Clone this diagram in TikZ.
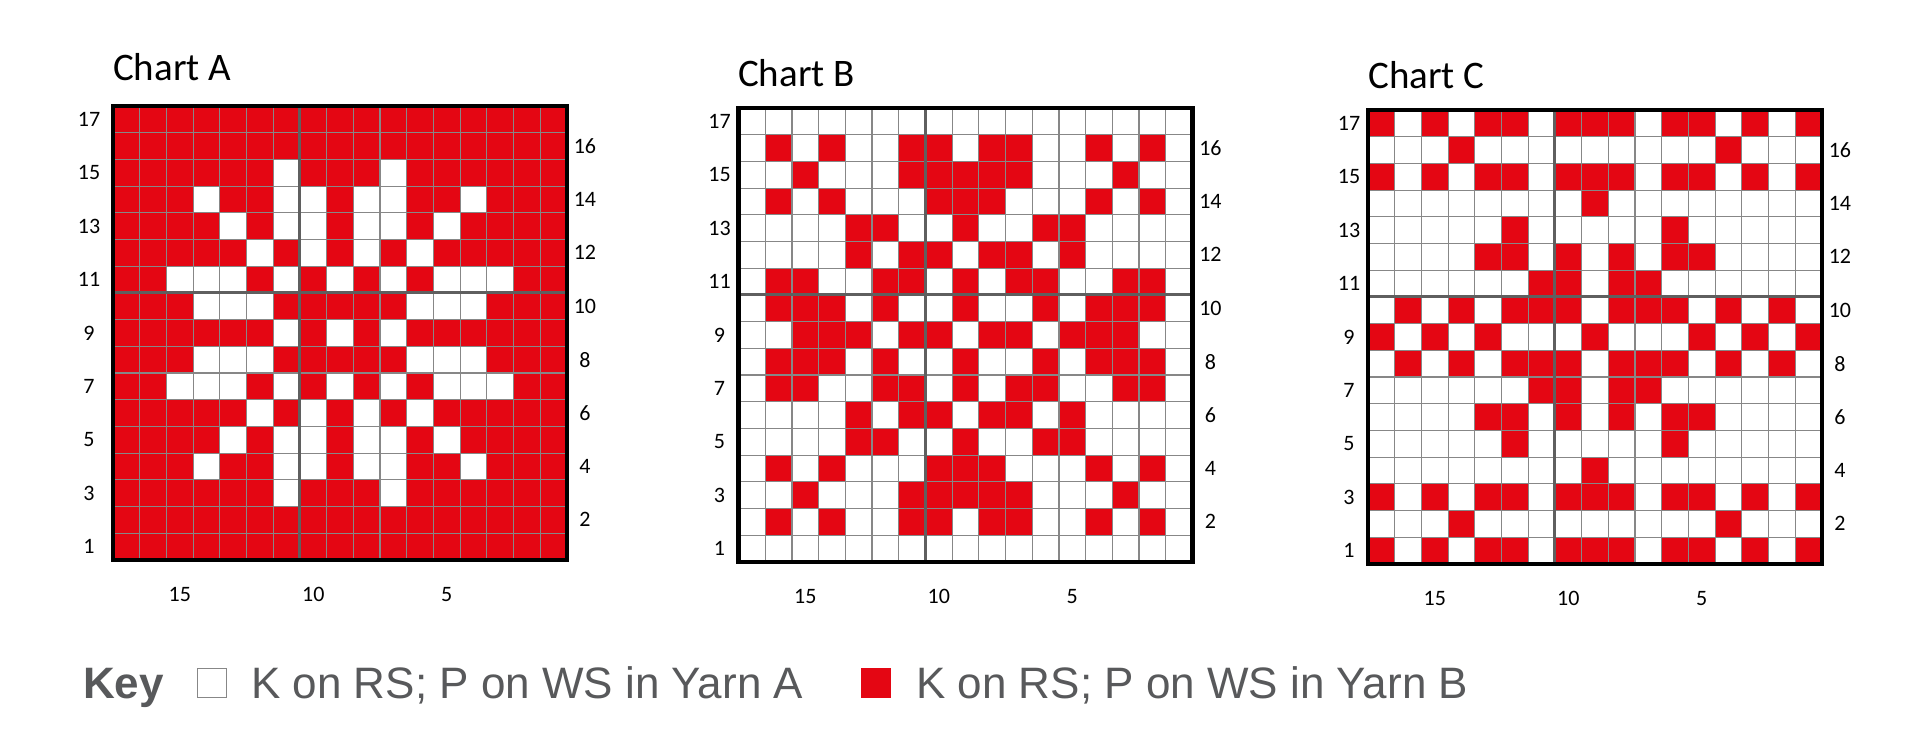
\documentclass[tikz,border=0pt]{standalone}
\usepackage{fontspec}
\setmainfont{Liberation Sans}
\newfontfamily\chartfont{Carlito}
\definecolor{knitred}{RGB}{228,6,19}
\definecolor{gridgray}{RGB}{135,135,135}
\definecolor{midgray}{RGB}{95,95,95}
\definecolor{keygray}{RGB}{88,89,91}
\def\cs{26.7}
\newcommand{\knitchart}[7]{%
\begin{scope}[shift={(#2,#3)}]
 \fill[#4] (0,0) rectangle (17*\cs,17*\cs);
 \foreach \r/\cols in {#6}{\foreach \c in \cols {\fill[#5] ({(\c-1)*\cs},{(17-\r)*\cs}) rectangle ++(\cs,\cs);}}
 \foreach \i in {1,...,16}{\draw[gridline] (\i*\cs,0) -- (\i*\cs,17*\cs); \draw[gridline] (0,\i*\cs) -- (17*\cs,\i*\cs);}
 \draw[midline] (7*\cs,0) -- (7*\cs,17*\cs);
 \draw[midline] (0,7*\cs) -- (17*\cs,7*\cs);
 \draw[chartborder] (0,0) rectangle (17*\cs,17*\cs);
 \foreach \r in {1,3,...,17}{\node[rowlab] (#1-l\r) at (#7,{(17.5-\r)*\cs}) {\r};}
 \foreach \r in {2,4,...,16}{\node[rowlab] (#1-r\r) at ({17*\cs+18},{(17.5-\r)*\cs}) {\r};}
 \foreach \s in {15,10,5}{\node[rowlab] (#1-b\s) at ({(17.5-\s)*\cs},{17*\cs+35}) {\s};}
\end{scope}}
\begin{document}
\begin{tikzpicture}[x=1pt,y=-1pt,
  gridline/.style={draw=gridgray,line width=1.2pt},
  midline/.style={draw=midgray,line width=3pt},
  chartborder/.style={draw=black,line width=4.5pt},
  rowlab/.style={inner sep=0pt,font=\chartfont\fontsize{22}{26}\selectfont,text=black},
  charttitle/.style={inner sep=0pt,anchor=base west,font=\chartfont\fontsize{39}{44}\selectfont,text=black},
  keytext/.style={inner sep=0pt,anchor=base west,font=\fontsize{44}{50}\selectfont,text=keygray},
  keybold/.style={inner sep=0pt,anchor=base west,font=\bfseries\fontsize{44}{50}\selectfont,text=keygray},
  keybox/.style={minimum size=29pt,inner sep=0pt,line width=1.5pt}]
\useasboundingbox (0,0) rectangle (1920,737);
\fill[white] (0,0) rectangle (1920,737);

\node[charttitle] (titleA) at (113,80) {Chart A};
\node[charttitle] (titleB) at (738,86) {Chart B};
\node[charttitle] (titleC) at (1368,88) {Chart C};

\knitchart{A}{113}{106}{knitred}{white}{15/{7,11},14/{4,7,8,10,11,14},13/{5,7,8,10,11,13},12/{6,8,10,12},11/{3,4,5,7,9,11,13,14,15},10/{4,5,6,12,13,14},9/{7,9,11},8/{4,5,6,12,13,14},7/{3,4,5,7,9,11,13,14,15},6/{6,8,10,12},5/{5,7,8,10,11,13},4/{4,7,8,10,11,14},3/{7,11}}{-24}

\knitchart{B}{738.5}{108}{white}{knitred}{16/{2,4,7,8,10,11,14,16},15/{3,7,8,9,10,11,15},14/{2,4,8,9,10,14,16},13/{5,6,9,12,13},12/{5,7,8,10,11,13},11/{2,3,6,7,9,11,12,15,16},10/{2,3,4,6,9,12,14,15,16},9/{3,4,5,7,8,10,11,13,14,15},8/{2,3,4,6,9,12,14,15,16},7/{2,3,6,7,9,11,12,15,16},6/{5,7,8,10,11,13},5/{5,6,9,12,13},4/{2,4,8,9,10,14,16},3/{3,7,8,9,10,11,15},2/{2,4,7,8,10,11,14,16}}{-19}

\knitchart{C}{1368}{110}{white}{knitred}{17/{1,3,5,6,8,9,10,12,13,15,17},16/{4,14},15/{1,3,5,6,8,9,10,12,13,15,17},14/{9},13/{6,12},12/{5,6,8,10,12,13},11/{7,8,10,11},10/{2,4,6,7,8,10,11,12,14,16},9/{1,3,5,9,13,15,17},8/{2,4,6,7,8,10,11,12,14,16},7/{7,8,10,11},6/{5,6,8,10,12,13},5/{6,12},4/{9},3/{1,3,5,6,8,9,10,12,13,15,17},2/{4,14},1/{1,3,5,6,8,9,10,12,13,15,17}}{-19}

\node[keybold] (keyword) at (83,698) {Key};
\node[keybox,draw=gridgray,fill=white] (boxA) at (212,683) {};
\node[keytext] (textA) at (251,698) {K on RS; P on WS in Yarn A};
\node[keybox,draw=knitred,fill=knitred] (boxB) at (876,683) {};
\node[keytext] (textB) at (916,698) {K on RS; P on WS in Yarn B};
\end{tikzpicture}
\end{document}
